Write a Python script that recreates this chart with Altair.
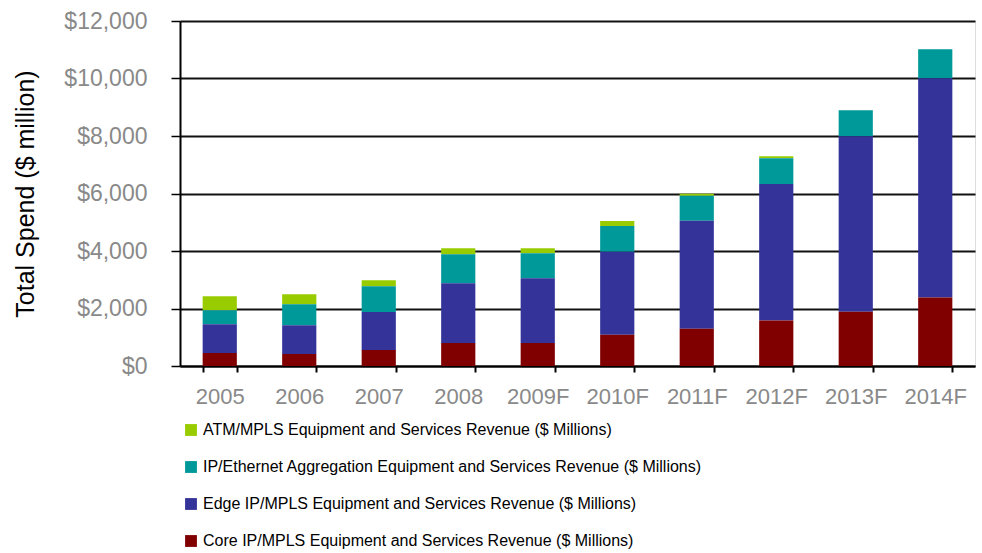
import altair as alt
import pandas as pd

years = ["2005", "2006", "2007", "2008", "2009F", "2010F", "2011F", "2012F", "2013F", "2014F"]
series = [
    "ATM/MPLS Equipment and Services Revenue ($ Millions)",
    "IP/Ethernet Aggregation Equipment and Services Revenue ($ Millions)",
    "Edge IP/MPLS Equipment and Services Revenue ($ Millions)",
    "Core IP/MPLS Equipment and Services Revenue ($ Millions)",
]
colors = ["#99CC00", "#009999", "#333399", "#800000"]

atm = [485, 345, 210, 210, 175, 175, 70, 70, 0, 0]
ip_eth = [485, 730, 900, 1005, 870, 900, 870, 900, 900, 1005]
edge = [1005, 1005, 1320, 2080, 2255, 2880, 3750, 4750, 6105, 7630]
core = [450, 415, 555, 800, 800, 1090, 1300, 1580, 1890, 2380]

values = [atm, ip_eth, edge, core]
rows = []
for si, (name, vals) in enumerate(zip(series, values)):
    for y, v in zip(years, vals):
        rows.append({"year": y, "series": name, "value": v, "stackorder": 3 - si})
df = pd.DataFrame(rows)

FONT = "Liberation Sans"

chart = alt.Chart(df).mark_bar().encode(
    x=alt.X("year:N", sort=years,
            scale=alt.Scale(paddingInner=0.57, paddingOuter=0.285),
            axis=alt.Axis(title=None, labelAngle=0, labelColor="#898989", labelFontSize=22,
                          labelFont=FONT, tickBand="extent", tickColor="#000", tickSize=6,
                          domainColor="#000", domainWidth=2, tickWidth=2, labelPadding=14,
                          grid=False)),
    y=alt.Y("value:Q", stack="zero",
            scale=alt.Scale(domain=[0, 12000], nice=False),
            axis=alt.Axis(title="Total Spend ($ million)", values=list(range(0, 12001, 2000)),
                          format="$,.0f", labelColor="#898989", labelFontSize=23, labelFont=FONT,
                          titleFont=FONT, titleFontSize=25, titleFontWeight="normal",
                          titleColor="#000", titlePadding=25,
                          tickColor="#000", tickSize=9, tickWidth=1.5, labelPadding=24,
                          domainColor="#000", domainWidth=2,
                          grid=True, gridColor="#111", gridWidth=1.8)),
    color=alt.Color("series:N", sort=series,
                    scale=alt.Scale(domain=series, range=colors),
                    legend=alt.Legend(title=None, orient="none", legendX=3, legendY=401,
                                      direction="vertical", symbolType="square",
                                      symbolSize=140, symbolStrokeWidth=0,
                                      labelFont=FONT, labelFontSize=16, labelColor="#000",
                                      rowPadding=21, labelOffset=4, labelLimit=800)),
    order=alt.Order("stackorder:Q", sort="ascending"),
).properties(
    width=795, height=345,
    autosize=alt.AutoSizeParams(type="none"),
    padding={"left": 180, "top": 21, "right": 7, "bottom": 187},
).configure_view(
    stroke="#111", strokeWidth=2
).configure(background="white")

chart.save("out.html", embed_options={"renderer": "svg", "actions": False})
